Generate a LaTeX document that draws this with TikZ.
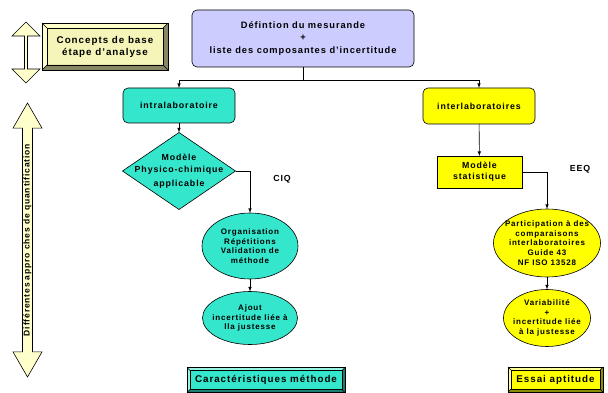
\documentclass[tikz,border=0pt]{standalone}
\usepackage{fontspec}
\setmainfont{Liberation Sans}[LetterSpace=10]
\usepackage{tikz}
\usetikzlibrary{shapes, arrows, positioning, calc}

\definecolor{lavande}{RGB}{204,204,255}
\definecolor{turquoise}{RGB}{51,230,204}
\definecolor{jaune}{RGB}{255,255,0}
\definecolor{creme}{RGB}{255,255,204}
\definecolor{beige}{RGB}{245,245,185}

% cadre en relief autour d'un noeud : nom, profondeur, clair, sombre
\newcommand{\bevel}[4]{%
  \fill[#3] (#1.north west) -- (#1.north east) -- ([shift={(-#2,-#2)}]#1.north east)
    -- ([shift={(#2,-#2)}]#1.north west) -- ([shift={(#2,#2)}]#1.south west) -- (#1.south west) -- cycle;
  \fill[#4] (#1.south east) -- (#1.north east) -- ([shift={(-#2,-#2)}]#1.north east)
    -- ([shift={(-#2,#2)}]#1.south east) -- ([shift={(#2,#2)}]#1.south west) -- (#1.south west) -- cycle;
  \draw[thin] (#1.north west) rectangle (#1.south east);
  \draw[thin] ([shift={(#2,-#2)}]#1.north west) rectangle ([shift={(-#2,#2)}]#1.south east);
  \draw[thin] (#1.north west) -- ([shift={(#2,-#2)}]#1.north west);
  \draw[thin] (#1.north east) -- ([shift={(-#2,-#2)}]#1.north east);
  \draw[thin] (#1.south west) -- ([shift={(#2,#2)}]#1.south west);
  \draw[thin] (#1.south east) -- ([shift={(-#2,#2)}]#1.south east);
}

\begin{document}
\begin{tikzpicture}[
        x=1pt, y=-1pt,
        every node/.style={font=\fontsize{8.8}{11}\selectfont\bfseries, align=center, outer sep=0pt},
        petit/.style={font=\fontsize{8}{9.6}\selectfont\bfseries},
        grand/.style={font=\fontsize{9.8}{12}\selectfont\bfseries},
        box/.style={rectangle, draw, semithick, rounded corners=5pt, inner sep=2pt},
        flat/.style={rectangle, draw, semithick, inner sep=2pt},
        ovale/.style={ellipse, draw, semithick, inner sep=-12pt, petit},
        losange/.style={diamond, draw, semithick, inner sep=-12pt},
        relief/.style={rectangle, inner sep=2pt, grand},
        flechedouble/.style={double arrow, draw, semithick, fill=creme, inner sep=0.5pt, double arrow tip angle=#1},
        arrow/.style={->, >=latex, semithick},
        lien/.style={-, semithick}
    ]
        \useasboundingbox (0,0) rectangle (608,393);

        % mesurande
        \node[box, fill=lavande, minimum width=222pt, minimum height=57pt,
              font=\fontsize{9.3}{12.5}\selectfont\bfseries] (mesur) at (303,38.5)
              {Défintion du mesurande\\+\\liste des composantes d'incertitude};

        % deux approches
        \node[box, fill=turquoise, minimum width=112pt, minimum height=35pt] (intra) at (179,105.5) {intralaboratoire};
        \node[box, fill=jaune, minimum width=112pt, minimum height=36pt] (inter) at (479,106) {interlaboratoires};
        \coordinate (split) at (303,80);
        \draw[lien] (mesur.south) -- (split);
        \draw[arrow] (split) -| (intra.north);
        \draw[arrow] (split) -| (inter.north);

        % branche intralaboratoire
        \node[losange, fill=turquoise, minimum width=113pt, minimum height=77pt] (physico) at (179,171)
              {Modèle\\[1pt]Physico-chimique\\[3pt]applicable};
        \node[ovale, fill=turquoise, minimum width=96pt, minimum height=66pt] (organ) at (250,246)
              {Organisation\\Répétitions\\Validation de\\méthode};
        \node[ovale, fill=turquoise, minimum width=95pt, minimum height=53pt] (ajout) at (250,318)
              {Ajout\\incertitude liée à\\lla justesse};
        \node (ciq) at (282,179) {CIQ};
        \draw[arrow] (intra) -- (physico);
        \draw[arrow] (physico.east) -| (organ.north);
        \draw[arrow] (organ) -- (ajout);

        % branche interlaboratoires
        \node[flat, fill=jaune, minimum width=85pt, minimum height=32pt] (stat) at (479.5,172)
              {Modèle\\statistique};
        \node[ovale, fill=jaune, minimum width=107pt, minimum height=68pt] (partic) at (547,243)
              {Participation à des\\comparaisons\\interlaboratoires\\Guide 43\\NF ISO 13528};
        \node[ovale, fill=jaune, minimum width=87pt, minimum height=57pt] (varia) at (547,318)
              {Variabilité\\+\\incertitude liée\\à la justesse};
        \node (eeq) at (580,169) {EEQ};
        \draw[arrow] (inter) -- (stat);
        \draw[arrow] (stat.east) -| (partic.north);
        \draw[arrow] (partic) -- (varia);

        % cadres en relief
        \node[relief, fill=beige, minimum width=126pt, minimum height=47pt] (concept) at (105,46.5)
              {Concepts de base\\étape d'analyse};
        \bevel{concept}{5pt}{creme}{black!45!beige}
        \node[relief, fill=turquoise, minimum width=158pt, minimum height=25pt] (carac) at (266,380)
              {Caractéristiques méthode};
        \bevel{carac}{3pt}{turquoise!50!white}{turquoise!55!black}
        \node[relief, fill=jaune, minimum width=95pt, minimum height=25pt] (essai) at (555.5,379.5)
              {Essai aptitude};
        \bevel{essai}{3pt}{jaune!40!white}{jaune!55!black}

        % fleches doubles
        \node[flechedouble=90, double arrow head extend=6.5pt, minimum height=61pt, minimum width=28pt,
              rotate=90] (haut) at (26,52.5) {};
        \node[flechedouble=60, double arrow head extend=9pt, minimum height=274pt, minimum width=29pt,
              rotate=90, font=\fontsize{8.5}{9}\selectfont\bfseries] (quant) at (27.5,240)
              {Différentes appro ches de quantification};
\end{tikzpicture}
\end{document}
